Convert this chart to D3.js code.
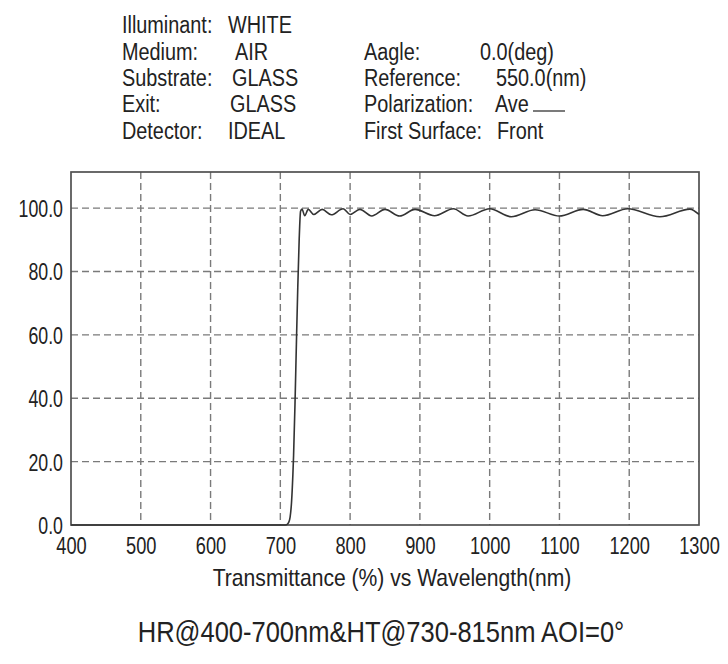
<!DOCTYPE html>
<html>
<head>
<meta charset="utf-8">
<script src="https://cdn.jsdelivr.net/npm/d3@7"></script>
<style>
  html, body { margin: 0; padding: 0; background: #fff; }
  svg { display: block; }
  text { font-family: "Liberation Sans", Arial, sans-serif; fill: #222; }
</style>
</head>
<body>
<div id="chart"></div>
<script>
// ---- data ----
const wavelengths = [400, 705, 709, 712, 714, 716, 718, 719, 721, 723, 725, 727, 729, 731,
  735, 740, 748, 760, 773, 790, 800, 814, 831, 850, 871, 893, 921, 948, 969, 1000,
  1031, 1065, 1100, 1134, 1162, 1198, 1244, 1287, 1300];
const transmittance = [0, 0, 0.1, 0.8, 2.5, 7, 16, 22, 38, 57, 75, 90, 99, 99.7,
  97.6, 99.6, 98, 99.6, 97.9, 99.8, 98, 99.6, 97.5, 99.6, 97.5, 99.6, 97.6, 99.8, 97.5, 99.8,
  97.3, 99.5, 97.5, 99.6, 97.6, 99.8, 97.3, 99.7, 98];
const xTicks = [400, 500, 600, 700, 800, 900, 1000, 1100, 1200, 1300];
const yTicks = [0, 20, 40, 60, 80, 100];
const headerLeftLabels = ["Illuminant:", "Medium:", "Substrate:", "Exit:", "Detector:"];
const headerLeftValues = ["WHITE", "AIR", "GLASS", "GLASS", "IDEAL"];
const headerRightLabels = ["Aagle:", "Reference:", "Polarization:", "First Surface:"];
const headerRightValues = ["0.0(deg)", "550.0(nm)", "Ave", "Front"];
const xTitle = "Transmittance (%) vs Wavelength(nm)";
const bottomTitle = "HR@400-700nm&HT@730-815nm AOI=0°";

// ---- layout ----
const W = 728, H = 664;
const plot = { left: 71, right: 699, top: 172, bottom: 525 };

const svg = d3.select("#chart").append("svg").attr("width", W).attr("height", H);

const x = d3.scaleLinear().domain([400, 1300]).range([plot.left, plot.right]);
const y = d3.scaleLinear().domain([0, 111.4]).range([plot.bottom, plot.top]);

function sText(g, str, px, py, size, sx, anchor) {
  return g.append("text")
    .attr("transform", `translate(${px},${py}) scale(${sx},1)`)
    .attr("text-anchor", anchor || "start")
    .style("font-size", size + "px")
    .text(str);
}

// ---- header ----
const hdr = svg.append("g");
const leftValX = [228, 235, 232, 230, 228];
const rowY = [33, 60, 86, 112, 139];
headerLeftLabels.forEach((s, i) => {
  sText(hdr, s, 122, rowY[i], 24.5, 0.81);
  sText(hdr, headerLeftValues[i], leftValX[i], rowY[i], 24.5, 0.81);
});
const rightValX = [480, 496, 495, 497];
headerRightLabels.forEach((s, i) => {
  sText(hdr, s, 364, rowY[i + 1], 24.5, 0.81);
  sText(hdr, headerRightValues[i], rightValX[i], rowY[i + 1], 24.5, 0.81);
});
hdr.append("line").attr("x1", 533).attr("x2", 565).attr("y1", 111).attr("y2", 111)
  .attr("stroke", "#333").attr("stroke-width", 1.3);

// ---- grid ----
const grid = svg.append("g");
grid.selectAll("line.v").data(xTicks.slice(1, -1)).join("line")
  .attr("x1", d => x(d)).attr("x2", d => x(d))
  .attr("y1", plot.top).attr("y2", plot.bottom)
  .attr("stroke", "#7a7a7a").attr("stroke-width", 1.4).attr("stroke-dasharray", "7,4");
grid.selectAll("line.h").data(yTicks.slice(1)).join("line")
  .attr("x1", plot.left).attr("x2", plot.right)
  .attr("y1", d => y(d)).attr("y2", d => y(d))
  .attr("stroke", "#7a7a7a").attr("stroke-width", 1.4).attr("stroke-dasharray", "7,4");

// ---- frame ----
svg.append("rect")
  .attr("x", plot.left).attr("y", plot.top)
  .attr("width", plot.right - plot.left).attr("height", plot.bottom - plot.top)
  .attr("fill", "none").attr("stroke", "#505050").attr("stroke-width", 1.7);

// ---- axes (labels only) ----
const xAxis = svg.append("g").attr("transform", `translate(0,${plot.bottom})`)
  .call(d3.axisBottom(x).tickValues(xTicks).tickSize(0).tickPadding(0).tickFormat(d3.format("d")));
xAxis.select(".domain").remove();
xAxis.selectAll("text")
  .attr("y", 0).attr("dy", null)
  .attr("transform", "translate(0,29) scale(0.76,1)")
  .style("font-size", "24px").style("font-family", "Liberation Sans, Arial, sans-serif")
  .attr("fill", "#222");

const yAxis = svg.append("g").attr("transform", `translate(${plot.left},0)`)
  .call(d3.axisLeft(y).tickValues(yTicks).tickSize(0).tickPadding(0).tickFormat(d3.format(".1f")));
yAxis.select(".domain").remove();
yAxis.selectAll("text")
  .attr("x", 0).attr("dy", null)
  .attr("transform", "translate(-8,8.5) scale(0.74,1)")
  .style("font-size", "24px").style("font-family", "Liberation Sans, Arial, sans-serif")
  .attr("fill", "#222");

// ---- curve ----
const data = wavelengths.map((w, i) => ({ w, t: transmittance[i] }));
const line = d3.line().x(d => x(d.w)).y(d => y(d.t)).curve(d3.curveMonotoneX);
svg.append("path").datum(data)
  .attr("d", line).attr("fill", "none")
  .attr("stroke", "#333").attr("stroke-width", 1.6);

// ---- titles ----
sText(svg, xTitle, 392, 586, 24, 0.88, "middle");
sText(svg, bottomTitle, 381, 642, 29, 0.88, "middle");
</script>
</body>
</html>
